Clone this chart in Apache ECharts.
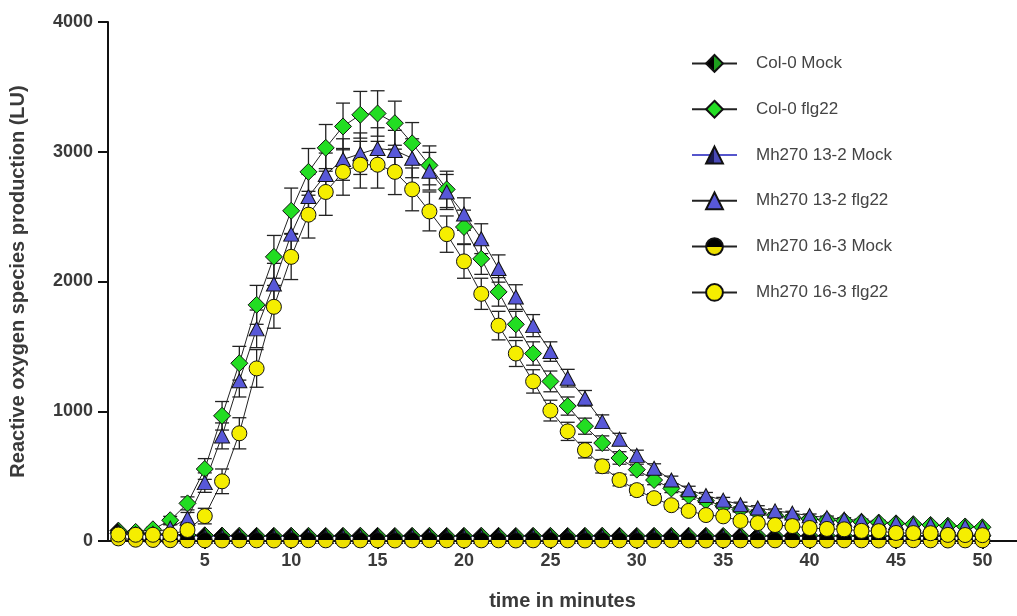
<!DOCTYPE html>
<html>
<head>
<meta charset="utf-8">
<title>ROS burst</title>
<script src="https://cdn.jsdelivr.net/npm/echarts@6/dist/echarts.min.js"></script>
<style>
  html, body { margin: 0; padding: 0; background: #fff; }
  #chart { width: 1017px; height: 616px; }
</style>
</head>
<body>
<div id="chart"></div>
<script>
// time points (minutes)
const minutes = [0, 1, 2, 3, 4, 5, 6, 7, 8, 9, 10, 11, 12, 13, 14, 15, 16, 17, 18, 19, 20,
    21, 22, 23, 24, 25, 26, 27, 28, 29, 30, 31, 32, 33, 34, 35, 36, 37, 38, 39, 40,
    41, 42, 43, 44, 45, 46, 47, 48, 49, 50];
const xTickLabels = [5, 10, 15, 20, 25, 30, 35, 40, 45, 50];

// mean ROS (LU)
const col0Mock = [80, 65, 55, 50, 46, 44, 42, 41, 40, 40, 41, 40, 39, 40, 41, 40, 39, 40, 40, 39, 40,
    41, 40, 39, 40, 40, 39, 40, 41, 40, 39, 40, 40, 41, 40, 39, 40, 40, 39, 40, 41,
    40, 39, 40, 40, 39, 40, 41, 40, 39, 40];
const col0Flg22 = [60, 70, 90, 160, 290, 555, 965, 1370, 1820, 2190, 2545, 2845, 3030, 3195, 3285, 3295, 3220, 3065, 2895, 2710, 2420,
    2175, 1920, 1670, 1445, 1230, 1040, 885, 755, 640, 550, 470, 405, 350, 310, 272, 242, 218, 198, 182, 170,
    162, 155, 148, 142, 136, 130, 124, 118, 112, 106];
const mh13Mock = [70, 55, 45, 40, 37, 36, 35, 35, 34, 35, 36, 35, 34, 35, 35, 34, 35, 36, 35, 34, 35,
    35, 34, 35, 36, 35, 34, 35, 35, 34, 35, 36, 35, 34, 35, 35, 34, 35, 36, 35, 34,
    35, 35, 34, 35, 36, 35, 34, 35, 35, 34];
const mh13Flg22 = [55, 55, 60, 100, 175, 450, 810, 1235, 1635, 1980, 2365, 2655, 2825, 2940, 2985, 3025, 3010, 2950, 2850, 2690, 2520,
    2330, 2100, 1880, 1660, 1460, 1255, 1100, 920, 785, 660, 560, 470, 395, 350, 315, 280, 255, 232, 215, 195,
    180, 168, 158, 148, 140, 132, 125, 118, 112, 106];
const mh16Mock = [20, 10, 8, 6, 5, 5, 4, 5, 5, 4, 5, 6, 5, 4, 5, 5, 4, 5, 6, 5, 4,
    5, 5, 4, 5, 6, 5, 4, 5, 5, 4, 5, 6, 5, 4, 5, 5, 4, 5, 6, 5,
    4, 5, 5, 4, 5, 6, 5, 4, 5, 5];
const mh16Flg22 = [50, 48, 48, 50, 85, 192, 460, 830, 1330, 1805, 2190, 2515, 2690, 2845, 2900, 2900, 2845, 2710, 2540, 2365, 2155,
    1905, 1660, 1445, 1230, 1005, 845, 700, 576, 470, 392, 330, 276, 232, 200, 190, 155, 138, 123, 115, 100,
    93, 90, 78, 76, 62, 61, 60, 47, 46, 45];

// SEM for the flg22 groups
const col0Flg22Err = [10, 10, 15, 30, 50, 80, 110, 130, 150, 165, 175, 180, 180, 180, 180, 175, 170, 160, 150, 140, 130,
    120, 110, 100, 90, 80, 70, 62, 55, 48, 42, 36, 32, 28, 25, 22, 20, 18, 16, 15, 14,
    13, 13, 12, 12, 11, 11, 10, 10, 10, 10];
const mh13Flg22Err = [10, 10, 12, 25, 45, 75, 100, 125, 145, 160, 170, 170, 165, 160, 160, 160, 155, 150, 145, 135, 125,
    115, 105, 95, 85, 75, 68, 60, 52, 45, 40, 35, 30, 27, 24, 21, 19, 17, 15, 14, 13,
    12, 12, 11, 11, 10, 10, 10, 9, 9, 9];
const mh16Flg22Err = [10, 10, 10, 15, 30, 60, 95, 120, 145, 165, 175, 180, 180, 180, 180, 180, 175, 165, 150, 140, 130,
    120, 110, 100, 90, 80, 70, 60, 52, 45, 40, 35, 30, 26, 23, 20, 18, 16, 15, 14, 13,
    12, 12, 11, 11, 10, 10, 10, 9, 9, 9];

const split = (a, b, horizontal) => new echarts.graphic.LinearGradient(0, 0, horizontal ? 1 : 0, horizontal ? 0 : 1, [
    {offset: 0, color: a}, {offset: 0.5, color: a},
    {offset: 0.5, color: b}, {offset: 1, color: b}
]);

const pairs = arr => minutes.map((t, i) => [t, arr[i]]);

function lineSeries(name, values, symbol, size, fill, lineColor) {
    return {
        name: name,
        type: 'line',
        data: pairs(values),
        symbol: symbol,
        symbolSize: size,
        z: 3,
        lineStyle: {color: lineColor || '#222', width: 1},
        itemStyle: {color: fill, borderColor: '#111', borderWidth: 1}
    };
}

function errorSeries(name, values, err) {
    return {
        name: name,
        type: 'custom',
        z: 2,
        silent: true,
        data: minutes.map((t, i) => [t, values[i] - err[i], values[i] + err[i]]),
        renderItem(params, api) {
            const lo = api.coord([api.value(0), api.value(1)]);
            const hi = api.coord([api.value(0), api.value(2)]);
            const w = 7;
            const style = {stroke: '#222', lineWidth: 1.3};
            return {
                type: 'group',
                children: [
                    {type: 'line', shape: {x1: lo[0], y1: lo[1], x2: hi[0], y2: hi[1]}, style},
                    {type: 'line', shape: {x1: hi[0] - w, y1: hi[1], x2: hi[0] + w, y2: hi[1]}, style},
                    {type: 'line', shape: {x1: lo[0] - w, y1: lo[1], x2: lo[0] + w, y2: lo[1]}, style}
                ]
            };
        }
    };
}

const chart = echarts.init(document.getElementById('chart'));

const labelFont = {fontFamily: 'Liberation Sans, Arial, sans-serif', fontWeight: 'bold', color: '#3a3a3a'};

chart.setOption({
    animation: false,
    grid: {left: 105, right: 0, top: 22, bottom: 73},
    legend: {
        orient: 'vertical',
        left: 686,
        top: 49,
        itemWidth: 45,
        itemHeight: 21,
        itemGap: 27,
        lineStyle: {width: 2},
        textStyle: {fontFamily: 'Liberation Sans, Arial, sans-serif', fontSize: 17, color: '#444', padding: [0, 0, 0, 14]},
        data: ['Col-0 Mock', 'Col-0 flg22', 'Mh270 13-2 Mock', 'Mh270 13-2 flg22', 'Mh270 16-3 Mock', 'Mh270 16-3 flg22']
    },
    xAxis: {
        type: 'value',
        min: -0.6,
        max: 52,
        name: 'time in minutes',
        nameLocation: 'middle',
        nameGap: 50,
        nameTextStyle: Object.assign({fontSize: 20}, labelFont),
        axisLine: {onZero: false, lineStyle: {color: '#111', width: 2}},
        axisTick: {show: true, length: 8, lineStyle: {color: '#111', width: 2}, customValues: xTickLabels},
        axisLabel: Object.assign({fontSize: 18, margin: 11, customValues: xTickLabels}, labelFont),
        splitLine: {show: false}
    },
    yAxis: {
        type: 'value',
        min: 0,
        max: 4000,
        interval: 1000,
        name: 'Reactive oxygen species production (LU)',
        nameLocation: 'middle',
        nameGap: 80,
        nameTextStyle: Object.assign({fontSize: 20}, labelFont),
        axisLine: {show: true, onZero: false, lineStyle: {color: '#111', width: 2}},
        axisTick: {show: true, length: 10, lineStyle: {color: '#111', width: 2}},
        axisLabel: Object.assign({fontSize: 18, margin: 15, formatter: v => String(v)}, labelFont),
        splitLine: {show: false}
    },
    series: [
        errorSeries('err col0', col0Flg22, col0Flg22Err),
        errorSeries('err 13-2', mh13Flg22, mh13Flg22Err),
        errorSeries('err 16-3', mh16Flg22, mh16Flg22Err),
        lineSeries('Col-0 Mock', col0Mock, 'diamond', [17, 17], split('#000', '#1e9e1e', true)),
        lineSeries('Col-0 flg22', col0Flg22, 'diamond', [17, 17], '#22dd22'),
        lineSeries('Mh270 13-2 Mock', mh13Mock, 'triangle', [15, 14], split('#1a1a50', '#4a4ab8', true), '#5555cc'),
        lineSeries('Mh270 13-2 flg22', mh13Flg22, 'triangle', [15, 14], '#5858d8'),
        lineSeries('Mh270 16-3 Mock', mh16Mock, 'circle', 15, split('#000', '#eee000', false)),
        lineSeries('Mh270 16-3 flg22', mh16Flg22, 'circle', 15, '#f5ee00')
    ]
});
</script>
</body>
</html>
